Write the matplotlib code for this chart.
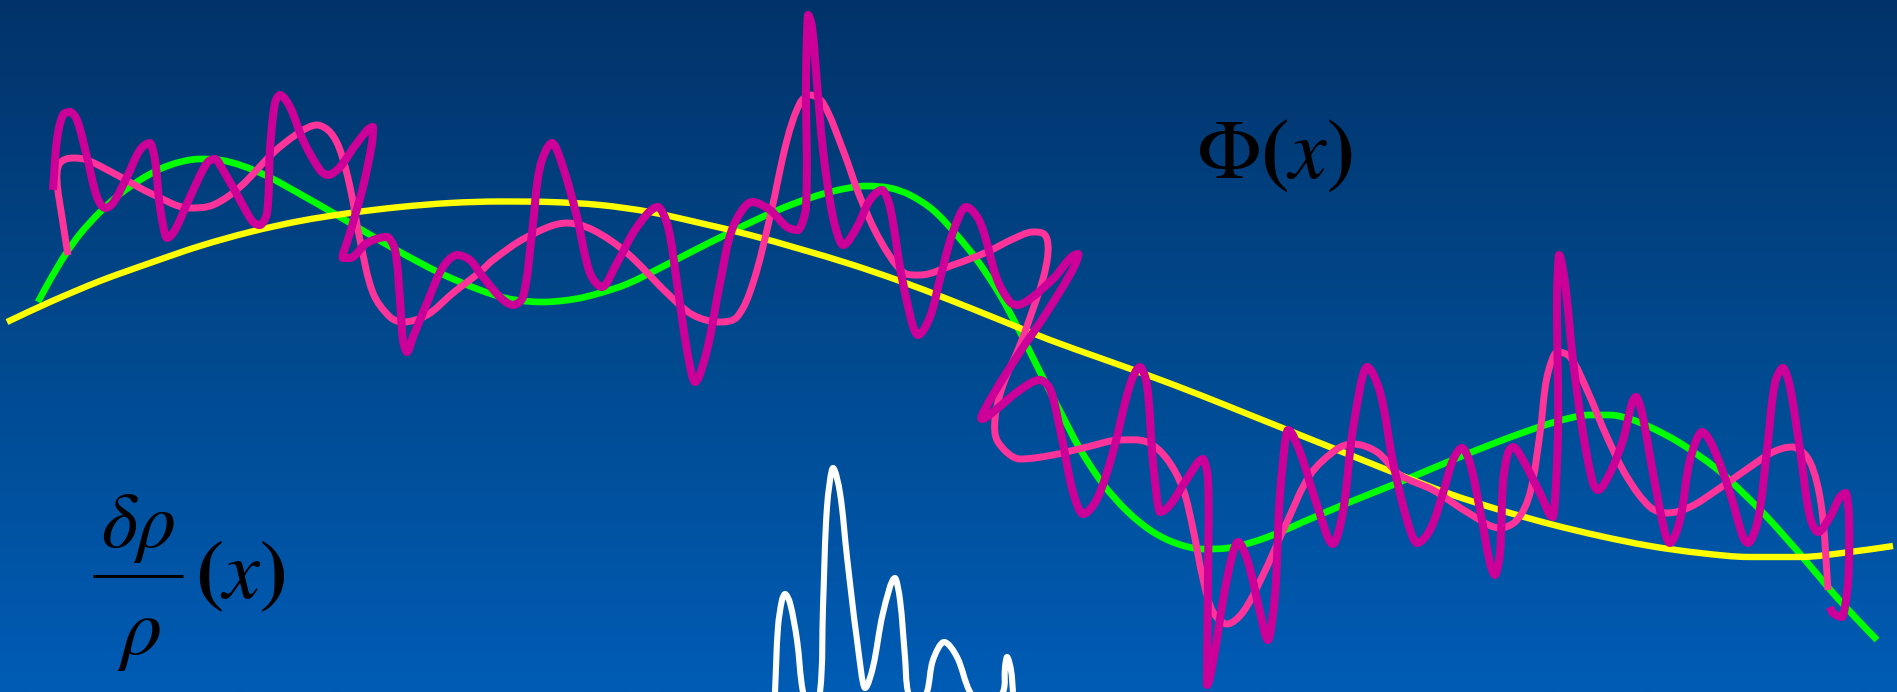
import numpy as np
import matplotlib.pyplot as plt
from matplotlib.colors import LinearSegmentedColormap
from matplotlib.path import Path
import matplotlib.patches as patches

plt.rcParams['mathtext.fontset'] = 'stix'

#tamaño del lienzo en pixeles
anchoPx = 1897
altoPx = 692

#curva amarilla (potencial suave)
amarilloX = [7, 50, 100, 150, 200, 250, 300, 350, 400, 450, 500, 550, 600, 650, 700, 750,
             800, 850, 900, 950, 1000, 1050, 1100, 1150, 1200, 1250, 1300, 1350, 1400,
             1450, 1500, 1550, 1600, 1650, 1700, 1750, 1800, 1850, 1893]
amarilloY = [322, 302, 281, 263, 246, 232, 221, 213, 207, 203, 201.5, 202, 205, 212, 223, 235,
             249, 264, 281, 300, 320, 340, 358, 376, 395, 415, 435, 455, 475,
             494, 510, 524, 536, 546, 553, 557, 557, 552, 546]

#curva verde
verdeX = [38, 50, 65, 80, 100, 120, 140, 160, 180, 200, 220, 240, 267, 300, 335, 367, 400,
          440, 480, 510, 543, 575, 600, 627, 660, 693, 727, 760, 793, 830, 867, 890, 910,
          933, 955, 977, 1000, 1020, 1040, 1060, 1080, 1103, 1128, 1153, 1178, 1203, 1228,
          1253, 1278, 1303, 1350, 1400, 1450, 1500, 1545, 1570, 1590, 1610, 1630, 1650,
          1680, 1717, 1742, 1767, 1800, 1833, 1855, 1877]
verdeY = [302, 280, 255, 234, 212, 194, 180, 169, 162, 159, 160, 165, 176, 194, 214, 233, 252,
          273, 290, 299, 302, 299, 293, 284, 268, 251, 234, 218, 204, 192, 186, 188, 195,
          210, 233, 260, 295, 332, 372, 411, 449, 484, 512, 532, 544, 549, 548,
          542, 533, 522, 502, 482, 461, 441, 425, 418, 415, 415, 419, 427,
          443, 469, 492, 517, 554, 593, 617, 640]

#curva rosa
rosaX = [68, 62, 57, 60, 73, 87, 117, 150, 190, 213, 240, 273, 300, 317, 330, 340, 350, 360,
         373, 390, 403, 427, 453, 480, 493, 527, 567, 593, 627, 667, 693, 720, 737, 753,
         770, 787, 800, 810, 823, 843, 860, 880, 903, 920, 953, 987, 1013, 1033, 1045,
         1048, 1043, 1033, 1020, 1003, 995, 998, 1020, 1053, 1087, 1120, 1147, 1167, 1183,
         1193, 1203, 1213, 1227, 1243, 1263, 1287, 1310, 1337, 1353, 1377, 1400, 1433,
         1467, 1500, 1517, 1530, 1540, 1547, 1557, 1570, 1587, 1607, 1627, 1650, 1667,
         1690, 1717, 1750, 1773, 1792, 1807, 1817, 1823, 1828]
rosaY = [255, 217, 180, 163, 158, 160, 175, 193, 208, 205, 187, 153, 132, 125, 132, 150, 187,
         240, 293, 317, 322, 315, 293, 272, 260, 237, 223, 230, 253, 293, 315, 322, 317, 283,
         217, 140, 103, 95, 103, 150, 197, 240, 272, 275, 265, 252, 239, 232, 235,
         252, 279, 309, 345, 385, 419, 442, 459, 455, 447, 440, 442, 459, 489,
         529, 579, 612, 624, 612, 575, 522, 475, 449, 444, 452, 475, 490,
         512, 528, 520, 493, 433, 377, 352, 357, 390, 437, 477, 507, 513,
         507, 490, 467, 452, 447, 457, 483, 520, 590]

#curva magenta (con oscilaciones rapidas)
magentaX = [53, 57, 63, 70, 77, 87, 97, 105, 113, 127, 140, 150, 155, 160, 167, 175, 190, 207,
            215, 223, 240, 253, 260, 267, 270, 275, 280, 290, 303, 320, 328, 340, 357, 373,
            372, 363, 350, 343, 350, 367, 387, 395, 400, 403, 407, 413, 427, 443, 457, 470,
            480, 500, 513, 523, 532, 540, 552, 563, 577, 590, 602, 617, 637, 658, 668, 677,
            687, 695, 707, 720, 733, 752, 770, 787, 798, 806, 806, 808, 812, 817, 823, 833,
            843, 857, 870, 882, 890, 903, 918, 930, 940, 953, 966, 980, 997, 1010, 1017,
            1030, 1053, 1078, 1073, 1047, 1020, 993, 982, 993, 1020, 1040, 1050, 1060,
            1073, 1083, 1097, 1113, 1130, 1140, 1147, 1153, 1160, 1170, 1187, 1203, 1208,
            1208, 1207, 1213, 1227, 1238, 1248, 1260, 1268, 1275, 1280, 1288, 1300, 1317,
            1333, 1343, 1353, 1367, 1380, 1393, 1407, 1417, 1430, 1443, 1453, 1462, 1470,
            1480, 1490, 1495, 1500, 1503, 1508, 1513, 1523, 1540, 1553, 1558, 1557, 1559,
            1565, 1573, 1583, 1593, 1598, 1610, 1623, 1632, 1636, 1642, 1653, 1665, 1670,
            1680, 1690, 1702, 1713, 1730, 1743, 1748, 1758, 1767, 1775, 1783, 1790, 1800,
            1810, 1818, 1830, 1840, 1846, 1849, 1848, 1842, 1833, 1830]
magentaY = [190, 140, 115, 112, 120, 157, 197, 208, 203, 177, 150, 143, 160, 207, 238, 230, 197,
            163, 159, 170, 200, 222, 225, 213, 150, 103, 95, 107, 140, 170, 175, 167, 143, 127,
            143, 187, 233, 258, 258, 243, 237, 250, 300, 340, 352, 337, 303, 267, 255, 260,
            273, 297, 305, 297, 233, 167, 143, 167, 217, 273, 287, 263, 227, 207, 227, 283,
            350, 382, 350, 283, 227, 202, 210, 227, 230, 207, 80, 15, 27, 83, 150, 217,
            245, 227, 200, 190, 207, 283, 335, 317, 279, 232, 207, 222, 279, 302, 305,
            299, 279, 254, 269, 312, 352, 395, 419, 412, 390, 380, 389, 429,
            492, 514, 499, 452, 385, 367, 385, 462, 512, 505, 479, 459, 479,
            579, 685, 662, 579, 542, 562, 612, 640, 595, 495, 430, 452, 505,
            544, 512, 429, 367, 392, 462, 520, 543, 530, 493, 460, 448, 463,
            510, 563, 575, 553, 483, 453, 447, 460, 493, 517, 433, 300, 255,
            283, 360, 433, 483, 490, 473, 440, 403, 397, 413, 473, 533, 543,
            520, 460, 432, 447, 493, 537, 543, 520, 450, 383, 368, 387, 450,
            517, 532, 517, 497, 493, 517, 583, 617, 613, 607]

#curva blanca (contraste de densidad), los valles quedan bajo el borde
blancoX = [775, 778, 782, 785, 790, 797, 803, 811, 820, 823, 827, 833, 840, 847, 857, 865,
           873, 883, 895, 900, 905, 908, 917, 927, 933, 944, 957, 970, 987, 1003, 1005,
           1007, 1011, 1013]
blancoY = [692, 627, 600, 594, 603, 640, 692, 712, 692, 607, 507, 468, 493, 557, 640, 688,
           667, 613, 578, 600, 657, 692, 712, 692, 660, 642, 657, 692, 712, 692, 667,
           657, 670, 692]


def TrazoSuave(xs, ys):
    '''
    Devuelve un Path de curvas de Bezier que pasa por todos los puntos,
    con tangente horizontal en los maximos y minimos de y
    '''
    p = np.column_stack([xs, ys]).astype(float)
    n = len(p)
    tang = np.zeros_like(p)
    extremo = np.zeros(n, dtype=bool)
    for i in range(n):
        if i == 0:
            d = p[1] - p[0]
        elif i == n - 1:
            d = p[-1] - p[-2]
        else:
            d = p[i + 1] - p[i - 1]
            if (p[i, 1] - p[i - 1, 1]) * (p[i + 1, 1] - p[i, 1]) <= 0:
                s = np.sign(p[i + 1, 0] - p[i - 1, 0]) or np.sign(p[i + 1, 0] - p[i, 0]) or 1.0
                d = np.array([s, 0.0])
                extremo[i] = True
        tang[i] = d / np.hypot(*d)
    verts = [p[0]]
    codes = [Path.MOVETO]
    for i in range(n - 1):
        seg = p[i + 1] - p[i]
        largo = np.hypot(*seg) / 3
        l1 = abs(seg[0]) / 3 if extremo[i] else largo
        l2 = abs(seg[0]) / 3 if extremo[i + 1] else largo
        verts += [p[i] + tang[i] * l1, p[i + 1] - tang[i + 1] * l2, p[i + 1]]
        codes += [Path.CURVE4] * 3
    return Path(verts, codes)


#Figura
fig = plt.figure(figsize=(anchoPx / 100, altoPx / 100), dpi=100)
ax = fig.add_axes([0, 0, 1, 1])

#fondo degradado azul
fondo = LinearSegmentedColormap.from_list('fondo', ['#02336A', '#01498E', '#005CB5'])
ax.imshow(np.linspace(0, 1, 256).reshape(-1, 1), cmap=fondo, aspect='auto',
          extent=[0, anchoPx, altoPx, 0], zorder=0)

curvas = [(verdeX, verdeY, '#00FF00', 4.8, 2),
          (amarilloX, amarilloY, '#FFFF00', 4.6, 3),
          (rosaX, rosaY, '#FF3399', 5.0, 4),
          (magentaX, magentaY, '#CC0099', 5.8, 5),
          (blancoX, blancoY, 'white', 4.4, 5)]
for cx, cy, color, grosor, capa in curvas:
    patch = patches.PathPatch(TrazoSuave(cx, cy), facecolor='none', edgecolor=color,
                              lw=grosor, capstyle='butt', joinstyle='round', zorder=capa)
    ax.add_patch(patch)

#etiquetas
ax.text(1196, 178, r'$\Phi\mathbf{(}x\mathbf{)}$', fontsize=61, color='black',
        ha='left', va='baseline', zorder=6)
ax.text(138, 547, r'$\delta\rho$', fontsize=56, color='black', ha='center', va='baseline', zorder=6)
ax.text(139, 654, r'$\rho$', fontsize=59, color='black', ha='center', va='baseline', zorder=6)
ax.plot([93, 183], [576, 576], color='black', lw=2.2, solid_capstyle='butt', zorder=6)
ax.text(195, 598, r'$\mathbf{(}x\mathbf{)}$', fontsize=60, color='black',
        ha='left', va='baseline', zorder=6)

ax.set_xlim(0, anchoPx)
ax.set_ylim(altoPx, 0)
ax.axis('off')

plt.savefig('out.png', dpi=100)
